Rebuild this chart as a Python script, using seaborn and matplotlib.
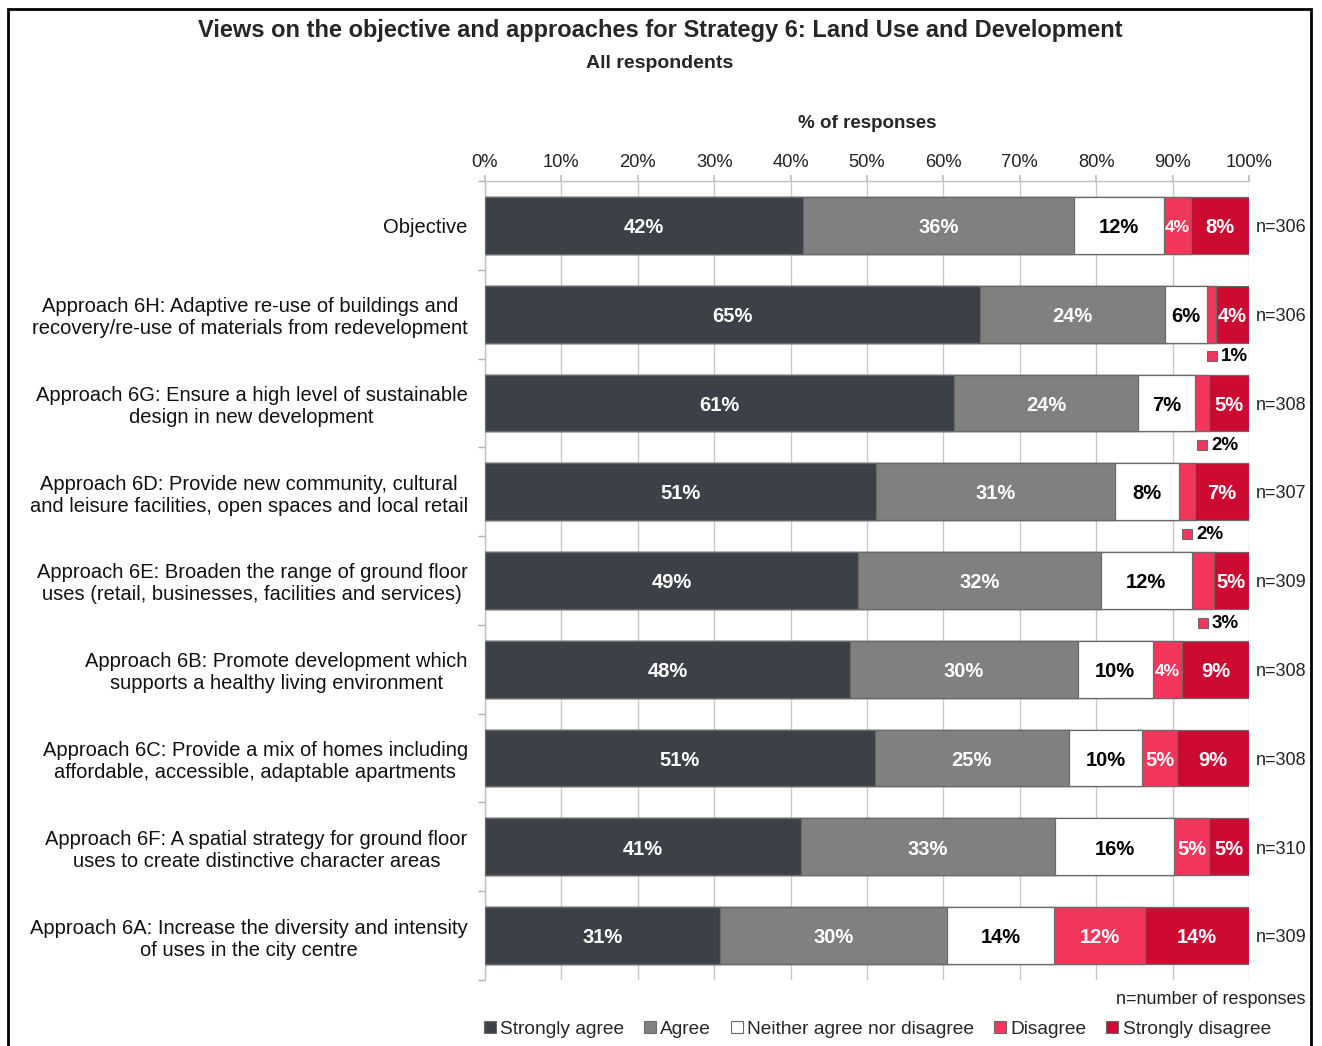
import matplotlib
matplotlib.use("Agg")
import matplotlib.pyplot as plt
from matplotlib.patches import Rectangle
from matplotlib.lines import Line2D
import numpy as np
import pandas as pd
import seaborn as sns

categories = [
    "Objective",
    "Approach 6H: Adaptive re-use of buildings and\nrecovery/re-use of materials from redevelopment",
    "Approach 6G: Ensure a high level of sustainable\ndesign in new development",
    "Approach 6D: Provide new community, cultural\nand leisure facilities, open spaces and local retail",
    "Approach 6E: Broaden the range of ground floor\nuses (retail, businesses, facilities and services)",
    "Approach 6B: Promote development which\nsupports a healthy living environment",
    "Approach 6C: Provide a mix of homes including\naffordable, accessible, adaptable apartments",
    "Approach 6F: A spatial strategy for ground floor\nuses to create distinctive character areas",
    "Approach 6A: Increase the diversity and intensity\nof uses in the city centre",
]
strongly_agree = [41.6, 64.8, 61.4, 51.2, 48.8, 47.8, 51.0, 41.4, 30.8]
agree = [35.5, 24.2, 24.1, 31.2, 31.8, 29.8, 25.4, 33.2, 29.7]
neither = [11.8, 5.5, 7.4, 8.4, 11.9, 9.8, 9.6, 15.6, 14.0]
disagree = [3.5, 1.2, 1.9, 2.1, 2.9, 3.8, 4.6, 4.6, 11.9]
strongly_disagree = [7.6, 4.3, 5.2, 7.1, 4.6, 8.8, 9.4, 5.2, 13.6]
n_responses = [306, 306, 308, 307, 309, 308, 308, 310, 309]

series_names = ["Strongly agree", "Agree", "Neither agree nor disagree",
                "Disagree", "Strongly disagree"]
series_values = [strongly_agree, agree, neither, disagree, strongly_disagree]
series_colors = ["#3c4047", "#808080", "#ffffff", "#f4365c", "#cc0a32"]
label_colors = ["white", "white", "black", "white", "white"]
x_ticks = list(range(0, 101, 10))

sns.set_theme(style="white")
plt.rcParams["font.family"] = ["Liberation Sans", "DejaVu Sans"]

fig = plt.figure(figsize=(13.22, 10.46), dpi=100)
ax = fig.add_axes([485 / 1322, 1 - 980 / 1046, (1249 - 485) / 1322, (980 - 181) / 1046])

df = pd.DataFrame({"category": categories})
vals = np.array(series_values)
cum = np.cumsum(vals, axis=0)
starts = cum - vals

edge = "#6a6a6a"
# Draw cumulative totals from the widest stack down so each segment shows
for k in range(len(series_names) - 1, -1, -1):
    df["cum"] = cum[k]
    sns.barplot(data=df, x="cum", y="category", order=categories, orient="y",
                color=series_colors[k], saturation=1, width=0.64,
                edgecolor=edge, linewidth=0.9, ax=ax, zorder=3)

ax.set_xlim(0, 100)
ax.set_ylim(len(categories) - 0.5, -0.5)

# Segment labels
for i in range(len(categories)):
    for k in range(len(series_names)):
        v = vals[k, i]
        cx = starts[k, i] + v / 2
        txt = f"{v:.0f}%"
        if v >= 3.2:
            fs = 14.5 if v >= 4.0 else 12.5
            ax.text(cx, i + 0.025, txt, ha="center", va="center", color=label_colors[k],
                    fontsize=fs, fontweight="bold", zorder=5)
        else:
            ax.plot(cx, i + 0.475, marker="s", ms=7.5, color=series_colors[k],
                    mec=edge, mew=0.8, zorder=5, clip_on=False)
            ax.text(cx + 1.2, i + 0.48, txt, ha="left", va="center", color="black",
                    fontsize=13.5, fontweight="bold", zorder=5)
    ax.text(100.9, i + 0.025, f"n={n_responses[i]}", ha="left", va="center",
            fontsize=13, color="#222222", clip_on=False)

# Axes styling
ax.xaxis.tick_top()
ax.xaxis.set_label_position("top")
ax.set_xticks(x_ticks)
ax.set_xticklabels([f"{t}%" for t in x_ticks], fontsize=13.2, color="#222222")
ax.tick_params(axis="x", which="major", length=4, color="#c0c0c0", pad=3, top=True, bottom=False)
ax.set_xlabel("% of responses", fontsize=13.5, fontweight="bold", labelpad=19)
ax.grid(axis="x", color="#c8c8c8", lw=1, zorder=0)
ax.grid(axis="y", visible=False)
ax.set_axisbelow(True)

ax.set_yticks(range(len(categories)))
ax.set_yticklabels(categories, fontsize=14.5, color="#111111", multialignment="center")
ax.set_yticks(np.arange(-0.5, len(categories), 1.0), minor=True)
ax.tick_params(axis="y", which="major", length=0, pad=12.5)
ax.tick_params(axis="y", which="minor", length=5, color="#b0b0b0", width=1, left=True)
ax.set_ylabel("")

for side in ["right", "bottom"]:
    ax.spines[side].set_visible(False)
for side in ["top", "left"]:
    ax.spines[side].set_color("#c0c0c0")
    ax.spines[side].set_linewidth(1)

# Titles
fig.text(660 / 1322, 1 - 31 / 1046, "Views on the objective and approaches for Strategy 6: Land Use and Development",
         ha="center", va="center", fontsize=17, fontweight="bold")
fig.text(660 / 1322, 1 - 64 / 1046, "All respondents", ha="center", va="center",
         fontsize=14, fontweight="bold")
fig.text(1305 / 1322, 1 - 999 / 1046, "n=number of responses", ha="right", va="center",
         fontsize=13, color="#222222")

# Legend
handles = [Line2D([], [], ls="none", marker="s", ms=9, mfc=c, mec=edge, mew=0.8)
           for c in series_colors]
fig.legend(handles, series_names, loc="center left",
           bbox_to_anchor=(483 / 1322, 1 - 1029 / 1046), ncol=5, frameon=False,
           fontsize=13.8, handlelength=0.7, handletextpad=0.2, columnspacing=0.98,
           borderaxespad=0, borderpad=0)

# Outer frame
fig.patches.append(Rectangle((8 / 1322, -0.02), (1311 - 8) / 1322, 1.02 - 9 / 1046,
                             transform=fig.transFigure, fill=False, ec="black", lw=2))

fig.savefig("out.png", dpi=100)
